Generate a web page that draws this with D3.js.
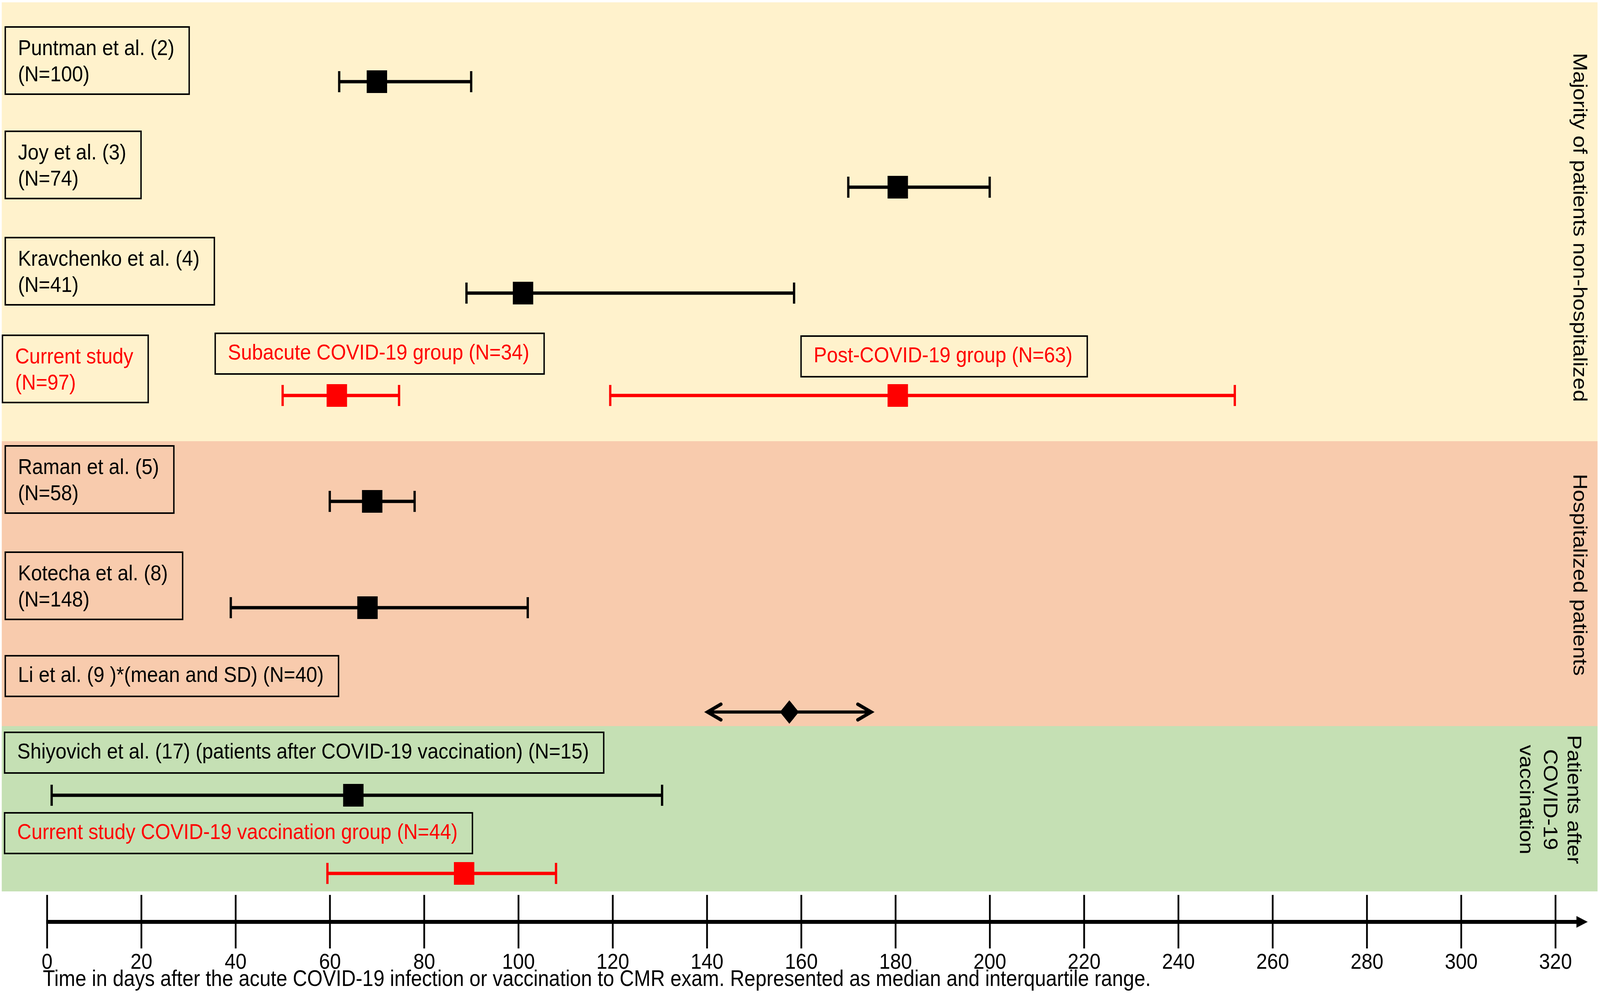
<!DOCTYPE html>
<html>
<head>
<meta charset="utf-8">
<script src="https://cdn.jsdelivr.net/npm/d3@7"></script>
<style>
  html, body { margin: 0; padding: 0; background: #fff; overflow: hidden; }
  #chart { width: 100vw; height: 100vh; }
  svg { display: block; width: 100vw; height: 100vh; font-family: "Liberation Sans", Arial, sans-serif; }
</style>
</head>
<body>
<div id="chart"></div>
<script>
// ---- data ----
const studyLabels = [
  ['Puntman et al. (2)', '(N=100)'],
  ['Joy et al. (3)', '(N=74)'],
  ['Kravchenko et al. (4)', '(N=41)'],
  ['Current study', '(N=97)'],
  ['Raman et al. (5)', '(N=58)'],
  ['Kotecha et al. (8)', '(N=148)'],
  ['Li et al. (9 )*(mean and SD) (N=40)'],
  ['Shiyovich et al. (17) (patients after COVID-19 vaccination) (N=15)'],
  ['Current study COVID-19 vaccination group (N=44)']
];
const studyIsCurrent = [false, false, false, true, false, false, false, false, true];

// one entry per interval mark (current study has two in one row)
const markStudy = [0, 1, 2, 3, 3, 4, 5, 6, 7, 8];
const markLow   = [62, 170, 89, 50, 119.5, 60, 39, 140, 1, 59.5];
const markMid   = [70, 180.5, 101, 61.5, 180.5, 69, 68, 157.5, 65, 88.5];
const markHigh  = [90, 200, 158.5, 74.7, 252, 78, 102, 175, 130.5, 108];
const markType  = ['iqr', 'iqr', 'iqr', 'iqr', 'iqr', 'iqr', 'iqr', 'sd', 'iqr', 'iqr'];

const subgroupLabels = ['Subacute COVID-19 group (N=34)', 'Post-COVID-19 group (N=63)'];

const groupNames = [
  ['Majority of patients non-hospitalized'],
  ['Hospitalized patients'],
  ['Patients after', 'COVID-19', 'vaccination']
];
const groupColors = ['#FFF2CC', '#F8CBAD', '#C5E0B4'];

const tickValues = [0, 20, 40, 60, 80, 100, 120, 140, 160, 180, 200, 220, 240, 260, 280, 300, 320];
const axisCaption = 'Time in days after the acute COVID-19 infection or vaccination to CMR exam. Represented as median and interquartile range.';

// ---- layout ----
const width = 4550, height = 2541;
const fontSize = 56;
const RED = '#FF0000';

// drawn in a fixed 4550x2541 frame, stretched to whatever the window is
const svg = d3.select('#chart')
  .append('svg')
  .attr('viewBox', `0 0 ${width} ${height}`)
  .attr('preserveAspectRatio', 'none');

const x = d3.scaleLinear().domain([0, 320]).range([133.5, 4423]);

// row centre lines and group band edges
const y = d3.scaleOrdinal()
  .domain(d3.range(studyLabels.length))
  .range([209, 479, 750, 1012, 1283, 1555, 1822, 2035, 2235]);
const bandEdges = [6, 1129, 1858, 2281];
const bandLeft = 5, bandRight = 4543;

// label box placement relative to the row line
const boxTopOffset = [-140, -143, -142, -154, -142, -142, -144, -161, -155];
const boxLeft = [15, 15, 15, 7, 15, 15, 15, 13, 13];

// ---- group bands ----
svg.append('g')
  .selectAll('rect')
  .data(groupColors)
  .enter()
  .append('rect')
  .attr('x', bandLeft)
  .attr('y', (d, i) => bandEdges[i])
  .attr('width', bandRight - bandLeft)
  .attr('height', (d, i) => bandEdges[i + 1] - bandEdges[i])
  .attr('fill', d => d);

// group titles, rotated to read top-down
const groupAnchors = [[4475, 582], [4475, 1471], [4458, 2046]];
groupNames.forEach((lines, gi) => {
  const t = svg.append('text')
    .attr('transform', `translate(${groupAnchors[gi][0]},${groupAnchors[gi][1]}) rotate(90)`)
    .attr('text-anchor', 'middle')
    .attr('font-size', fontSize)
    .attr('fill', '#000');
  lines.forEach((line, li) => {
    t.append('tspan').attr('x', 0).attr('y', li * 68).text(line);
  });
});

// ---- label boxes ----
function labelBox(parent, lines, left, top, color) {
  const g = parent.append('g');
  const rect = g.append('rect');
  const text = g.append('text')
    .attr('font-size', fontSize)
    .attr('fill', color);
  lines.forEach((line, li) => {
    text.append('tspan')
      .attr('x', left + 36)
      .attr('y', top + (lines.length > 1 ? 72 + li * 67 : 67))
      .text(line);
  });
  const w = text.node().getBBox().width;
  rect.attr('x', left)
    .attr('y', top)
    .attr('width', w + 36 + 42)
    .attr('height', lines.length > 1 ? 172 : 104)
    .attr('fill', 'none')
    .attr('stroke', '#000')
    .attr('stroke-width', 4);
}

const labels = svg.append('g');
studyLabels.forEach((lines, i) => {
  labelBox(labels, lines, boxLeft[i], y(i) + boxTopOffset[i], studyIsCurrent[i] ? RED : '#000');
});
labelBox(labels, [subgroupLabels[0]], 612, 853, RED);
labelBox(labels, [subgroupLabels[1]], 2278, 860, RED);

// ---- interval marks ----
const marks = svg.append('g');
markStudy.forEach((s, i) => {
  const color = studyIsCurrent[s] ? RED : '#000';
  const cy = y(s);
  const x0 = x(markLow[i]), x1 = x(markHigh[i]), xm = x(markMid[i]);
  const g = marks.append('g');

  if (markType[i] === 'iqr') {
    g.append('line')
      .attr('x1', x0).attr('x2', x1)
      .attr('y1', cy).attr('y2', cy)
      .attr('stroke', color).attr('stroke-width', 8.5);
    [x0, x1].forEach(cx => {
      g.append('line')
        .attr('x1', cx).attr('x2', cx)
        .attr('y1', cy - 27).attr('y2', cy + 27)
        .attr('stroke', color).attr('stroke-width', 6.5);
    });
    g.append('rect')
      .attr('x', xm - 29).attr('y', cy - 29)
      .attr('width', 58).attr('height', 58)
      .attr('fill', color);
  } else {
    // mean and SD: double arrow with diamond
    g.append('line')
      .attr('x1', x0 + 4).attr('x2', x1 - 4)
      .attr('y1', cy).attr('y2', cy)
      .attr('stroke', color).attr('stroke-width', 8);
    const head = d3.path();
    head.moveTo(x0 + 40, cy - 20); head.lineTo(x0 + 2, cy); head.lineTo(x0 + 40, cy + 20);
    head.moveTo(x1 - 40, cy - 20); head.lineTo(x1 - 2, cy); head.lineTo(x1 - 40, cy + 20);
    g.append('path')
      .attr('d', head.toString())
      .attr('fill', 'none')
      .attr('stroke', color).attr('stroke-width', 9)
      .attr('stroke-linecap', 'round').attr('stroke-linejoin', 'miter');
    const dia = d3.path();
    dia.moveTo(xm, cy - 30); dia.lineTo(xm + 27, cy); dia.lineTo(xm, cy + 30); dia.lineTo(xm - 27, cy); dia.closePath();
    g.append('path').attr('d', dia.toString()).attr('fill', color);
  }
});

// ---- time axis ----
const axisY = 2359;
const axisG = svg.append('g')
  .attr('transform', `translate(0,${axisY})`)
  .call(d3.axisBottom(x).tickValues(tickValues).tickSizeInner(68).tickSizeOuter(0).tickFormat(d3.format('d')));

axisG.select('.domain').remove();
axisG.selectAll('.tick line')
  .attr('y1', -69)
  .attr('y2', 68)
  .attr('stroke', '#000')
  .attr('stroke-width', 5);
axisG.selectAll('.tick text')
  .attr('y', 120)
  .attr('dy', 0)
  .attr('font-size', fontSize)
  .attr('font-family', '"Liberation Sans", Arial, sans-serif')
  .attr('fill', '#000');

axisG.append('line')
  .attr('x1', x(0) - 2).attr('x2', 4490)
  .attr('y1', 0).attr('y2', 0)
  .attr('stroke', '#000').attr('stroke-width', 10);
axisG.append('path')
  .attr('d', 'M4483,-15 L4515,0 L4483,15 Z')
  .attr('fill', '#000');

svg.append('text')
  .attr('x', 122)
  .attr('y', 2523)
  .attr('font-size', 56.5)
  .attr('fill', '#000')
  .text(axisCaption);
</script>
</body>
</html>
